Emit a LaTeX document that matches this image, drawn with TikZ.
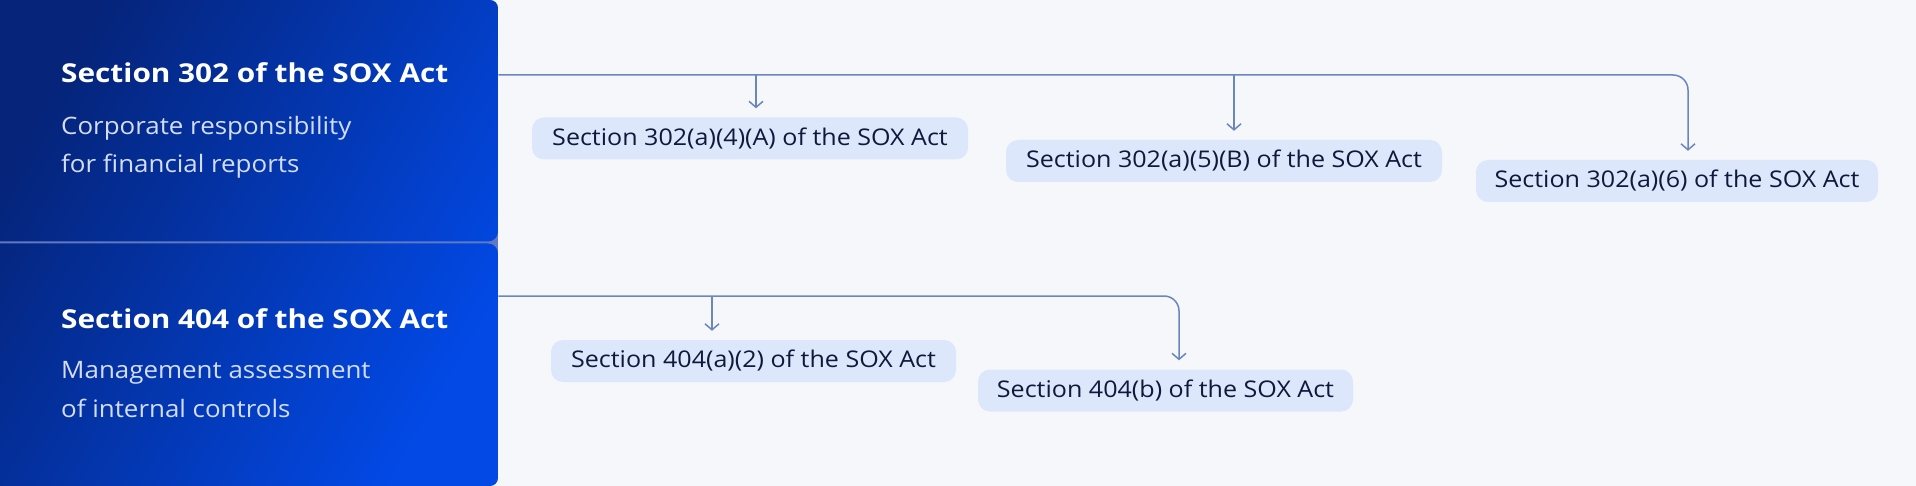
\documentclass[tikz,border=0pt]{standalone}
\usepackage{fontspec}
\setmainfont{Open Sans}
\newfontfamily\titlefont[FakeStretch=1.145]{Open Sans}
\newfontfamily\subfont[FakeStretch=1.08]{Open Sans}
\newfontfamily\childfont[FakeStretch=1.09]{Open Sans}
\usetikzlibrary{arrows.meta,calc}
\definecolor{bgc}{HTML}{F5F7FB}
\definecolor{panelA}{HTML}{05247A}
\definecolor{panelB}{HTML}{0249E6}
\definecolor{divc}{HTML}{5F79C4}
\definecolor{boxc}{HTML}{DCE7FB}
\definecolor{txtc}{HTML}{0E1A3A}
\definecolor{subc}{HTML}{D3DDF5}
\definecolor{linec}{HTML}{6B86BC}
\tikzset{
  title/.style={anchor=base west, inner sep=0pt, text=white, font=\titlefont\fontsize{26}{30}\selectfont\bfseries},
  subtitle/.style={anchor=base west, inner sep=0pt, text=subc, font=\subfont\fontsize{24}{30}\selectfont},
  child/.style={fill=boxc, rounded corners=12pt, text=txtc, inner sep=0pt, minimum height=42pt, font=\childfont\fontsize{23}{28}\selectfont},
  conn/.style={draw=linec, line width=1.5pt},
  arr/.style={conn, -{Straight Barb[length=6pt,width=14pt,line width=1.5pt]}, shorten >=9pt},
  panelbox/.style={inner sep=0pt, draw=none, anchor=north west}
}
\begin{document}
\begin{tikzpicture}[x=1pt,y=-1pt]
\useasboundingbox (0,0) rectangle (1916,486);
\fill[bgc] (0,0) rectangle (1916,486);
\begin{scope}
\clip (0,0) rectangle (1916,486);
% divider notch
\fill[divc] (0,232) rectangle (498,253);
% panels
\begin{scope}
\clip[rounded corners=10pt] (-30,-30) rectangle (498,241.5)
      (-30,243.5) rectangle (498,516);
\clip[rounded corners=8pt] (-30,0) rectangle (498,486);
\shade[left color=panelA, right color=panelB, shading angle=60] (0,0) rectangle (498,486);
\end{scope}
\end{scope}
\node[panelbox, minimum width=498pt, minimum height=241.5pt] (panel302) at (0,0) {};
\node[panelbox, minimum width=498pt, minimum height=242.5pt] (panel404) at (0,243.5) {};
% texts
\node[title] (t302) at (61,83) {Section 302 of the SOX Act};
\node[subtitle] (s302a) at (61,135) {Corporate responsibility};
\node[subtitle] (s302b) at (61,173) {for financial reports};
\node[title] (t404) at (61,328) {Section 404 of the SOX Act};
\node[subtitle] (s404a) at (61,378) {Management assessment};
\node[subtitle] (s404b) at (61,417) {of internal controls};
% children
\node[child, minimum width=436pt] (c1) at (750,138.5) {Section 302(a)(4)(A) of the SOX Act};
\node[child, minimum width=436pt] (c2) at (1224,161) {Section 302(a)(5)(B) of the SOX Act};
\node[child, minimum width=402pt] (c3) at (1677,181) {Section 302(a)(6) of the SOX Act};
\node[child, minimum width=405pt] (c4) at (753.5,361) {Section 404(a)(2) of the SOX Act};
\node[child, minimum width=375pt] (c5) at (1165.5,390.5) {Section 404(b) of the SOX Act};
% connectors
\coordinate (o302) at ($(panel302.north east)+(0,75)$);
\coordinate (j1) at (756,75);
\coordinate (j2) at (1234,75);
\coordinate (k3) at (1688,75);
\draw[arr, rounded corners=15pt] (o302) -- (k3) -- (k3 |- c3.north);
\draw[arr] (j1) -- (j1 |- c1.north);
\draw[arr] (j2) -- (j2 |- c2.north);
\coordinate (o404) at ($(panel404.north east)+(0,52.5)$);
\coordinate (j4) at (712,296);
\coordinate (k5) at (1179,296);
\draw[arr, rounded corners=15pt] (o404) -- (k5) -- (k5 |- c5.north);
\draw[arr] (j4) -- (j4 |- c4.north);
\end{tikzpicture}
\end{document}
